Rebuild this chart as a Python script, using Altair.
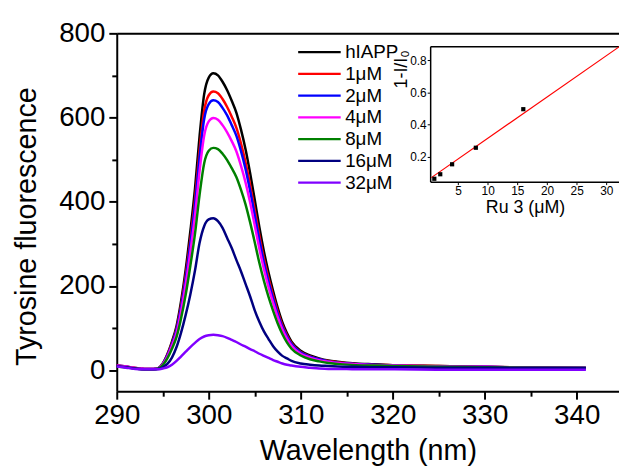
import altair as alt
import pandas as pd

# ---- main spectra ----
wavelength = [290, 291, 292, 293, 294, 294.5, 295, 295.5, 296, 296.5, 297, 297.5, 298, 298.5,
              299, 299.5, 300, 300.5, 301, 301.5, 302, 302.5, 303, 303.5, 304, 304.5, 305,
              305.5, 306, 306.5, 307, 307.5, 308, 308.5, 309, 310, 311, 312, 313, 314, 316,
              318, 320, 325, 330, 335, 341]

hiapp = [12, 9, 5, 3, 3, 5, 16, 38, 68, 105, 165, 240, 330, 430, 555, 655, 695, 705, 700, 685,
         665, 640, 612, 572, 525, 468, 405, 340, 282, 232, 188, 148, 114, 88, 68, 46, 35, 28,
         23, 20, 16, 14, 12, 10, 8, 6, 5]
c1 = [11, 8, 5, 3, 3, 5, 15, 36, 64, 99, 155, 226, 310, 404, 522, 616, 653, 662, 658, 644,
      625, 602, 576, 539, 494, 440, 381, 320, 265, 218, 177, 139, 107, 83, 64, 43, 33, 26,
      22, 19, 15, 13, 12, 10, 8, 6, 5]
c2 = [10, 8, 4, 3, 3, 5, 15, 35, 62, 96, 150, 218, 300, 391, 505, 596, 632, 641, 637, 623,
      605, 582, 557, 521, 478, 426, 368, 309, 256, 210, 170, 134, 103, 80, 62, 42, 32, 26,
      21, 18, 15, 13, 11, 9, 8, 6, 5]
c4 = [11, 9, 5, 3, 3, 5, 14, 32, 58, 89, 140, 204, 281, 366, 472, 557, 591, 599, 595, 582,
      565, 544, 520, 486, 446, 398, 344, 289, 240, 197, 160, 126, 97, 75, 58, 39, 30, 24,
      20, 17, 14, 12, 11, 9, 8, 6, 5]
c8 = [9, 7, 4, 2, 2, 4, 12, 28, 51, 79, 124, 180, 248, 323, 416, 491, 521, 528, 525, 514,
      499, 480, 459, 429, 394, 351, 304, 255, 212, 174, 141, 111, 86, 66, 51, 35, 26, 21,
      17, 15, 12, 11, 10, 8, 7, 6, 5]
c16 = [10, 7, 4, 2, 2, 3, 7, 15, 30, 55, 90, 132, 180, 236, 302, 342, 358, 361, 354, 338,
       314, 290, 262, 235, 205, 175, 142, 115, 92, 74, 57, 44, 34, 28, 22, 16, 13, 11, 10,
       9, 8, 7, 7, 6, 6, 5, 5]
c32 = [9, 6, 3, 2, 2, 2, 4, 7, 13, 22, 33, 44, 55, 65, 74, 80, 83, 84, 83, 81, 77, 72, 67,
       61, 56, 50, 45, 39, 34, 29, 24, 20, 16, 13, 11, 8, 6, 4, 3, 3, 2, 2, 2, 1, 1, 1, 1]

series_names = ["hIAPP", "1μM", "2μM", "4μM", "8μM", "16μM", "32μM"]
series_colors = ["#000000", "#FF0000", "#0000FF", "#FF00FF", "#008000", "#000080", "#8000FF"]
series_values = [hiapp, c1, c2, c4, c8, c16, c32]

x_major = [290, 300, 310, 320, 330, 340]
x_minor = [295, 305, 315, 325, 335, 345]
y_major = [0, 200, 400, 600, 800]
y_minor = [100, 300, 500, 700]

# ---- inset (quenching plot) ----
ru_conc = [1, 2, 4, 8, 16]
quench = [0.062, 0.09, 0.152, 0.255, 0.495]
fit_x = [0.5, 32.3]
fit_y = [0.069, 0.887]
inset_x_ticks = [5, 10, 15, 20, 25, 30]
inset_y_ticks = [0.2, 0.4, 0.6, 0.8]

rows = []
for name, vals in zip(series_names, series_values):
    for w, v in zip(wavelength, vals):
        rows.append({"nm": w, "F": v, "series": name})
df = pd.DataFrame(rows)
ref_df = df[df["series"] == "hIAPP"]
inset_df = pd.DataFrame({"ru": ru_conc, "q": quench})
fit_df = pd.DataFrame({"ru": fit_x, "q": fit_y})

FONT = "Liberation Sans, Arial, sans-serif"

x_main = alt.Scale(domain=[290, 344.6], nice=False, zero=False)
y_main = alt.Scale(domain=[-50, 800], nice=False, zero=False)

common_axis = dict(grid=False, domainColor="black", domainWidth=2, tickColor="black",
                   tickWidth=2, labelColor="black", titleColor="black",
                   labelFont=FONT, titleFont=FONT, titleFontWeight="normal")

hidden = dict(domain=False, ticks=False, labels=False, title=None, grid=False)

lines = alt.Chart(df).mark_line(strokeWidth=2.5, interpolate="monotone").encode(
    x=alt.X("nm:Q", scale=x_main, axis=alt.Axis(
        orient="bottom", title="Wavelength (nm)", values=x_major, tickSize=8,
        labelFontSize=28, titleFontSize=29, labelPadding=3, titlePadding=7,
        labelFlush=False, labelOverlap=False, **common_axis)),
    y=alt.Y("F:Q", scale=y_main, axis=alt.Axis(
        orient="left", title="Tyrosine fluorescence", values=y_major, tickSize=8,
        labelFontSize=28, titleFontSize=29, labelPadding=4,
        titleX=-91, titleY=195, titleBaseline="middle", titleAlign="center", titleAngle=270,
        labelFlush=False, labelOverlap=False, **common_axis)),
    color=alt.Color("series:N", sort=series_names,
                    scale=alt.Scale(domain=series_names, range=series_colors),
                    legend=alt.Legend(title=None, orient="none", legendX=182, legendY=8,
                                      symbolType="stroke", symbolSize=1849,
                                      symbolStrokeWidth=2.5, labelFontSize=19,
                                      labelFont=FONT, labelColor="black", labelOffset=3,
                                      clipHeight=22, rowPadding=0, padding=0,
                                      labelLimit=200)),
)

minor_ticks = alt.Chart(ref_df).mark_point(opacity=0).encode(
    x=alt.X("nm:Q", scale=x_main, axis=alt.Axis(
        orient="bottom", values=x_minor, tickSize=5, tickWidth=2, tickColor="black",
        domain=False, labels=False, title=None, grid=False)),
    y=alt.Y("F:Q", scale=y_main, axis=alt.Axis(
        orient="left", values=y_minor, tickSize=5, tickWidth=2, tickColor="black",
        domain=False, labels=False, title=None, grid=False)),
)

top_frame = alt.Chart(ref_df).mark_point(opacity=0).encode(
    x=alt.X("nm:Q", scale=x_main, axis=alt.Axis(orient="top", labels=False, ticks=False,
                                                  title=None, domainColor="black",
                                                  domainWidth=2, grid=False)),
    y=alt.Y("F:Q", scale=y_main, axis=alt.Axis(orient="right", **hidden)),
)

main = alt.layer(lines, minor_ticks, top_frame).resolve_axis(x="independent", y="independent")

ins_x = alt.Scale(domain=[0.3, 32.3], range=[317, 509], nice=False, zero=False)
ins_y = alt.Scale(domain=[0.044, 0.887], range=[150, 13], nice=False, zero=False)

inset_axis = dict(grid=False, domainColor="black", domainWidth=1.5, tickColor="black",
                  tickWidth=1, labelColor="black", titleColor="black",
                  labelFont=FONT, titleFont=FONT, titleFontWeight="normal")

fit = alt.Chart(fit_df).mark_line(color="#FF0000", strokeWidth=1.2).encode(
    x=alt.X("ru:Q", scale=ins_x, axis=alt.Axis(orient="top", offset=-13, labels=False,
                                                 ticks=False, title=None, domainColor="black",
                                                 domainWidth=1.5, grid=False)),
    y=alt.Y("q:Q", scale=ins_y, axis=alt.Axis(orient="right", **hidden)),
)

pts = alt.Chart(inset_df).mark_square(size=18, color="black", opacity=1).encode(
    x=alt.X("ru:Q", scale=ins_x, axis=alt.Axis(
        orient="bottom", offset=-212, values=inset_x_ticks, title="Ru 3 (μM)",
        tickSize=3, labelFontSize=12, titleFontSize=18, labelPadding=1, titlePadding=2,
        **inset_axis)),
    y=alt.Y("q:Q", scale=ins_y, axis=alt.Axis(
        orient="left", offset=-317, values=inset_y_ticks, title="1-I/I₀",
        tickSize=3, labelFontSize=12, titleFontSize=18, labelPadding=1,
        titleX=-29, titleY=36, titleBaseline="middle", **inset_axis)),
)

inset = alt.layer(fit, pts).resolve_axis(x="independent", y="independent")

chart = alt.layer(main, inset).resolve_scale(x="independent", y="independent").properties(
    width=508, height=362,
    padding={"left": 110, "top": 23, "right": 0, "bottom": 75},
    autosize=alt.AutoSizeParams(type="none"),
).configure_view(stroke=None).configure(background="white")

chart.save("out.html", embed_options={"renderer": "svg", "actions": False})
